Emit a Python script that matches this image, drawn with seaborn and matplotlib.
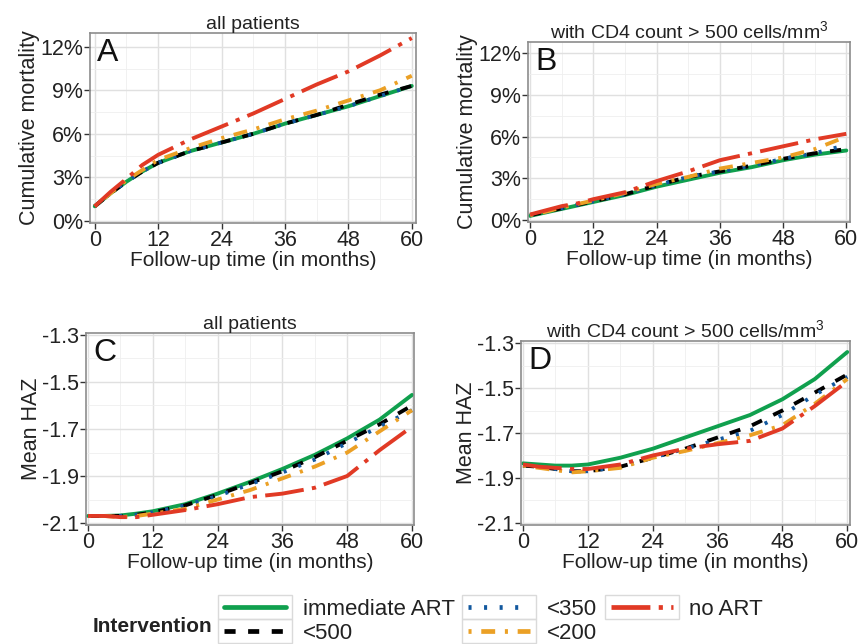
import numpy as np
import pandas as pd
import matplotlib
matplotlib.use("Agg")
import matplotlib.pyplot as plt
import seaborn as sns
from matplotlib.lines import Line2D
from matplotlib.patches import Rectangle
from matplotlib.ticker import FixedLocator, MultipleLocator

# ---------------- data ----------------
months = [0, 3, 6, 9, 12, 18, 24, 30, 36, 42, 48, 54, 60]
interventions = ["immediate ART", "<500", "<350", "<200", "no ART"]

# Panel A: cumulative mortality (%), all patients
A_immediate = [1.0, 1.9, 2.7, 3.4, 4.0, 4.8, 5.4, 6.0, 6.7, 7.3, 7.9, 8.6, 9.3]
A_lt500     = [1.0, 1.9, 2.7, 3.4, 4.0, 4.8, 5.4, 6.0, 6.7, 7.3, 8.0, 8.7, 9.3]
A_lt350     = [1.0, 1.9, 2.7, 3.4, 4.0, 4.8, 5.4, 6.0, 6.7, 7.3, 7.9, 8.6, 9.3]
A_lt200     = [1.0, 1.9, 2.8, 3.5, 4.2, 5.0, 5.7, 6.3, 7.0, 7.6, 8.3, 9.0, 10.0]
A_noART     = [1.0, 2.0, 2.9, 3.85, 4.55, 5.6, 6.5, 7.4, 8.4, 9.4, 10.3, 11.4, 12.6]

# Panel B: cumulative mortality (%), CD4 > 500
B_immediate = [0.3, 0.55, 0.8, 1.05, 1.3, 1.8, 2.4, 2.9, 3.4, 3.8, 4.3, 4.7, 5.0]
B_lt500     = [0.35, 0.6, 0.85, 1.1, 1.35, 1.85, 2.5, 3.1, 3.5, 3.9, 4.4, 4.8, 5.1]
B_lt350     = [0.35, 0.6, 0.85, 1.1, 1.35, 1.85, 2.5, 3.1, 3.5, 3.9, 4.4, 4.8, 5.4]
B_lt200     = [0.35, 0.6, 0.9, 1.15, 1.4, 1.95, 2.6, 3.1, 3.7, 4.1, 4.5, 5.1, 6.0]
B_noART     = [0.4, 0.7, 1.0, 1.2, 1.5, 2.0, 2.8, 3.5, 4.3, 4.8, 5.3, 5.8, 6.2]

# Panel C: mean HAZ, all patients
C_immediate = [-2.07, -2.07, -2.068, -2.06, -2.05, -2.02, -1.975, -1.925, -1.87, -1.81, -1.74, -1.66, -1.555]
C_lt500     = [-2.07, -2.07, -2.07, -2.065, -2.055, -2.025, -1.98, -1.93, -1.88, -1.82, -1.75, -1.68, -1.60]
C_lt350     = [-2.07, -2.07, -2.07, -2.065, -2.055, -2.025, -1.985, -1.935, -1.885, -1.83, -1.76, -1.69, -1.62]
C_lt200     = [-2.07, -2.07, -2.075, -2.07, -2.06, -2.04, -2.0, -1.96, -1.91, -1.86, -1.80, -1.71, -1.62]
C_noART     = [-2.07, -2.07, -2.075, -2.075, -2.065, -2.045, -2.02, -1.99, -1.975, -1.95, -1.90, -1.79, -1.69]

# Panel D: mean HAZ, CD4 > 500
D_immediate = [-1.835, -1.84, -1.845, -1.845, -1.84, -1.81, -1.77, -1.72, -1.67, -1.62, -1.55, -1.46, -1.34]
D_lt500     = [-1.845, -1.85, -1.86, -1.87, -1.87, -1.85, -1.81, -1.77, -1.72, -1.67, -1.60, -1.52, -1.44]
D_lt350     = [-1.845, -1.85, -1.86, -1.87, -1.87, -1.85, -1.81, -1.77, -1.73, -1.69, -1.62, -1.53, -1.45]
D_lt200     = [-1.845, -1.855, -1.865, -1.875, -1.87, -1.855, -1.81, -1.78, -1.745, -1.71, -1.665, -1.57, -1.46]
D_noART     = [-1.84, -1.85, -1.855, -1.86, -1.86, -1.84, -1.80, -1.77, -1.75, -1.735, -1.68, -1.58, -1.47]

x_ticks = [0, 12, 24, 36, 48, 60]
mort_ticks = [0, 3, 6, 9, 12]
mort_labels = ["0%", "3%", "6%", "9%", "12%"]
haz_ticks = [-2.1, -1.9, -1.7, -1.5, -1.3]
haz_labels = ["-2.1", "-1.9", "-1.7", "-1.5", "-1.3"]

title_all = "all patients"
title_cd4 = r"with CD4 count > 500 cells/mm$^{3}$"
xlabel = "Follow-up time (in months)"

# ---------------- style ----------------
sns.set_theme(style="white")
plt.rcParams["font.family"] = ["Liberation Sans", "DejaVu Sans"]
plt.rcParams["mathtext.fontset"] = "custom"
plt.rcParams["mathtext.rm"] = "Liberation Sans"
plt.rcParams["mathtext.it"] = "Liberation Sans"
plt.rcParams["lines.scale_dashes"] = False

palette = {"immediate ART": "#10A04E", "<500": "#000000", "<350": "#12589E",
           "<200": "#EBA025", "no ART": "#E13A25"}
dashes = {"immediate ART": "", "<500": (8, 9), "<350": (2.2, 9),
          "<200": (2.2, 7, 10, 7), "no ART": (28, 6, 3, 6)}
LW = 2.8
TXT = "#222222"


def make_df(series):
    rows = []
    for name, vals in zip(interventions, series):
        for m, v in zip(months, vals):
            rows.append({"month": m, "value": v, "intervention": name})
    return pd.DataFrame(rows)


fig = plt.figure(figsize=(8.62, 6.44), dpi=100)
W, H = 862.0, 644.0


def add_ax(left, top, right, bottom):
    return fig.add_axes([left / W, 1 - bottom / H, (right - left) / W, (bottom - top) / H])


panels = [
    dict(box=(90, 33, 416, 223), data=[A_immediate, A_lt500, A_lt350, A_lt200, A_noART],
         xlim=(-0.9, 60.8), ylim=(-0.15, 12.95), yt=mort_ticks, yl=mort_labels, ymin=1.5,
         ylab="Cumulative mortality", title=title_all, letter="A"),
    dict(box=(528, 42, 850, 222), data=[B_immediate, B_lt500, B_lt350, B_lt200, B_noART],
         xlim=(-0.4, 60.7), ylim=(-0.14, 12.8), yt=mort_ticks, yl=mort_labels, ymin=1.5,
         ylab="Cumulative mortality", title=title_cd4, letter="B"),
    dict(box=(86, 333, 414, 525), data=[C_immediate, C_lt500, C_lt350, C_lt200, C_noART],
         xlim=(-0.37, 60.37), ylim=(-2.1085, -1.2915), yt=haz_ticks, yl=haz_labels, ymin=0.1,
         ylab="Mean HAZ", title=title_all, letter="C"),
    dict(box=(521, 341, 850, 525), data=[D_immediate, D_lt500, D_lt350, D_lt200, D_noART],
         xlim=(-0.37, 60.5), ylim=(-2.109, -1.291), yt=haz_ticks, yl=haz_labels, ymin=0.1,
         ylab="Mean HAZ", title=title_cd4, letter="D"),
]

for p in panels:
    ax = add_ax(*p["box"])
    df = make_df(p["data"])
    sns.lineplot(data=df, x="month", y="value", hue="intervention", style="intervention",
                 hue_order=interventions, style_order=interventions, palette=palette,
                 dashes=dashes, linewidth=LW, errorbar=None, legend=False, ax=ax)
    ax.set_xlim(*p["xlim"])
    ax.set_ylim(*p["ylim"])
    ax.xaxis.set_major_locator(FixedLocator(x_ticks))
    ax.set_xticklabels([str(t) for t in x_ticks])
    ax.yaxis.set_major_locator(FixedLocator(p["yt"]))
    ax.set_yticklabels(p["yl"])
    ax.xaxis.set_minor_locator(MultipleLocator(6))
    ax.yaxis.set_minor_locator(MultipleLocator(p["ymin"]))
    ax.grid(which="major", color="#E0E0E0", linewidth=1.0)
    ax.grid(which="minor", color="#EFEFEF", linewidth=0.6)
    ax.set_axisbelow(True)
    ax.tick_params(which="major", direction="out", length=4, width=1, color="#333333",
                   labelsize=15.5, labelcolor=TXT, pad=1, bottom=True, left=True)
    ax.tick_params(which="minor", length=0)
    for s in ax.spines.values():
        s.set_color("#8C8C8C")
        s.set_linewidth(1.2)
    ax.set_xlabel(xlabel, fontsize=15, color=TXT, labelpad=0)
    ax.set_ylabel(p["ylab"], fontsize=15.5, color=TXT, labelpad=0)
    ax.set_title(p["title"], fontsize=14, color=TXT, pad=3)
    ax.text(0.022, 0.975, p["letter"], transform=ax.transAxes, ha="left", va="top",
            fontsize=23, color="#111111")

# ---------------- legend ----------------
handles = []
for name in interventions:
    d = dashes[name]
    ls = "-" if d == "" else (0, d)
    handles.append(Line2D([], [], color=palette[name], linewidth=LW + 0.6, linestyle=ls))

leg = fig.legend(handles, interventions, ncol=3, loc="upper left",
                 bbox_to_anchor=(224 / W, 1 - 599 / H), frameon=False, fontsize=16,
                 handlelength=2.8, handletextpad=0.75, columnspacing=0.6,
                 labelspacing=0.12, borderpad=0, borderaxespad=0)
for t in leg.get_texts():
    t.set_color(TXT)

fig.text(212 / W, 1 - 627 / H, "Intervention", ha="right", va="center",
         fontsize=15, fontweight="bold", color=TXT)

fig.canvas.draw()
renderer = fig.canvas.get_renderer()
inv = fig.transFigure.inverted()
for h in leg.legend_handles:
    bb = h.get_window_extent(renderer)
    cx, cy = (bb.x0 + bb.x1) / 2, (bb.y0 + bb.y1) / 2
    kw, kh = 74, 24
    (x0, y0) = inv.transform((cx - kw / 2, cy - kh / 2))
    (x1, y1) = inv.transform((cx + kw / 2, cy + kh / 2))
    fig.patches.append(Rectangle((x0, y0), x1 - x0, y1 - y0, transform=fig.transFigure,
                                 facecolor="none", edgecolor="#DADADA", linewidth=1.0,
                                 zorder=1))

fig.savefig("out.png", dpi=100)
